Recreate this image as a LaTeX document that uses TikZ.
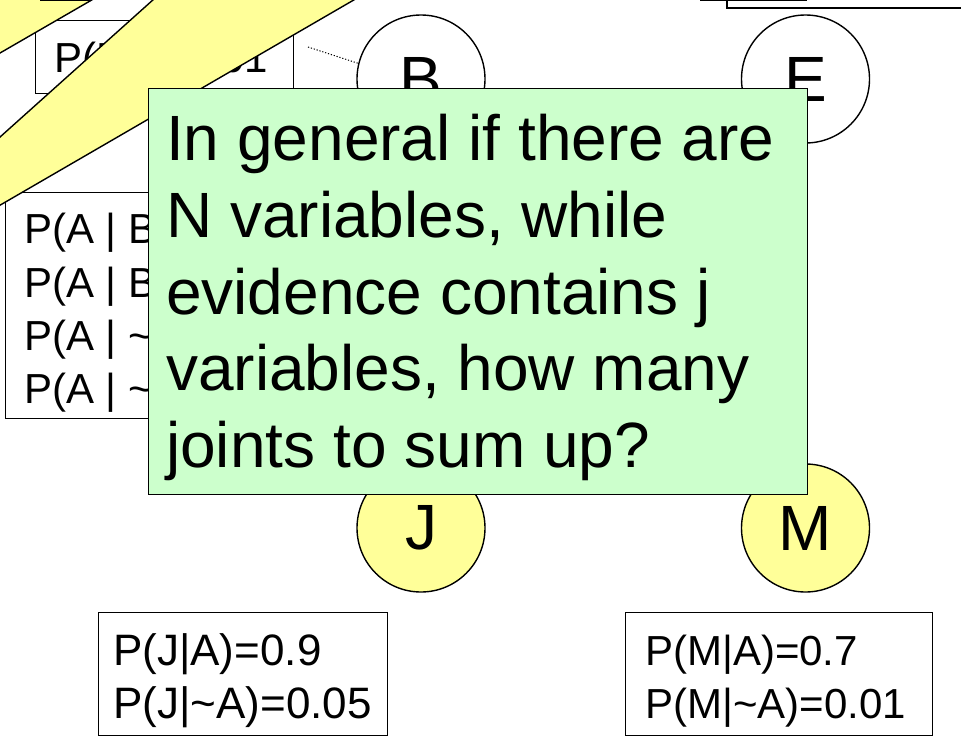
\documentclass[tikz,border=0pt]{standalone}
\usepackage{fontspec}
\setmainfont{Liberation Sans}
\definecolor{stripe}{HTML}{FFFF99}
\definecolor{note}{HTML}{CCFFCC}
\begin{document}
\begin{tikzpicture}[x=1pt,y=-1pt,
  tbl/.style={draw=black, fill=white, line width=1.4pt, anchor=north west, inner sep=0pt},
  tabtext/.style={anchor=base west, inner sep=0pt, font=\fontsize{42}{50}\selectfont},
  jtext/.style={anchor=base west, inner sep=0pt, font=\fontsize{44}{50}\selectfont},
  notetext/.style={anchor=base west, inner sep=0pt, font=\fontsize{64}{77}\selectfont},
  var/.style={circle, draw=black, line width=1.4pt, minimum size=128pt, inner sep=0pt, font=\fontsize{64}{70}\selectfont},
  band/.style={fill=stripe, draw=none},
  bandedge/.style={draw=black, line width=1.4pt},
  edgeline/.style={draw=black, line width=1.6pt}
]
\useasboundingbox (0,0) rectangle (961,736);
\clip (0,0) rectangle (961,736);

% partly visible shapes at the top edge
\draw[edgeline] (727,-20) -- (727,8) -- (990,8);
\draw[edgeline] (700,0.6) -- (807,0.6);

% CPT boxes at the top left
\node[tbl, minimum width=258pt, minimum height=73pt] (boxB) at (35,20) {};
\node[tabtext] (tB) at (54,72) {P(B)=0.001};
\node[tbl, minimum width=395pt, minimum height=226pt] (boxA) at (5,192) {};
\node[tabtext] (tA1) at (24,243) {P(A | B};
\node[tabtext] (tA2) at (24,297) {P(A | B};
\node[tabtext] (tA3) at (24,350) {P(A | \textasciitilde};
\node[tabtext] (tA4) at (24,403) {P(A | \textasciitilde};

% yellow bands
\fill[band] (-10,-10) -- (109,-10) -- (-10,58.8) -- cycle;
\draw[bandedge] (109,-10) -- (-10,58.8);
\fill[band] (-10,146) -- (164,-10) -- (371,-10) -- (-10,211) -- cycle;
\draw[bandedge] (-10,146) -- (164,-10);
\draw[bandedge] (371,-10) -- (-10,211);
\draw[edgeline] (40,0.6) -- (90,0.6);

% variables
\node[var, fill=white] (B) at (421,79) {B};
\node[var, fill=white] (E) at (805.5,79) {E};
\node[var, fill=stripe] (J) at (421,528) {J};
\node[var, fill=stripe] (M) at (805.5,528) {M};

\coordinate (d1) at (308,47);
\draw[line width=1pt, dash pattern=on 1.2pt off 1.8pt] (d1) -- (B.166);

% bottom CPT boxes
\node[tbl, minimum width=289pt, minimum height=123pt] (boxJ) at (98,612) {};
\node[jtext] (tJ1) at (113,665) {P(J|A)=0.9};
\node[jtext] (tJ2) at (113,718) {P(J|\textasciitilde A)=0.05};
\node[tbl, minimum width=307pt, minimum height=123pt] (boxM) at (625,612) {};
\node[tabtext] (tM1) at (645,665) {P(M|A)=0.7};
\node[tabtext] (tM2) at (645,718) {P(M|\textasciitilde A)=0.01};

% note
\node[draw=black, fill=note, line width=1.4pt, anchor=north west, inner sep=0pt,
      minimum width=659pt, minimum height=406pt] (note) at (148,88) {};
\node[notetext] (n1) at (166,160) {In general if there are};
\node[notetext] (n2) at (166,237) {N variables, while};
\node[notetext] (n3) at (166,314) {evidence contains j};
\node[notetext] (n4) at (166,390) {variables, how many};
\node[notetext] (n5) at (166,467) {joints to sum up?};
\end{tikzpicture}
\end{document}
